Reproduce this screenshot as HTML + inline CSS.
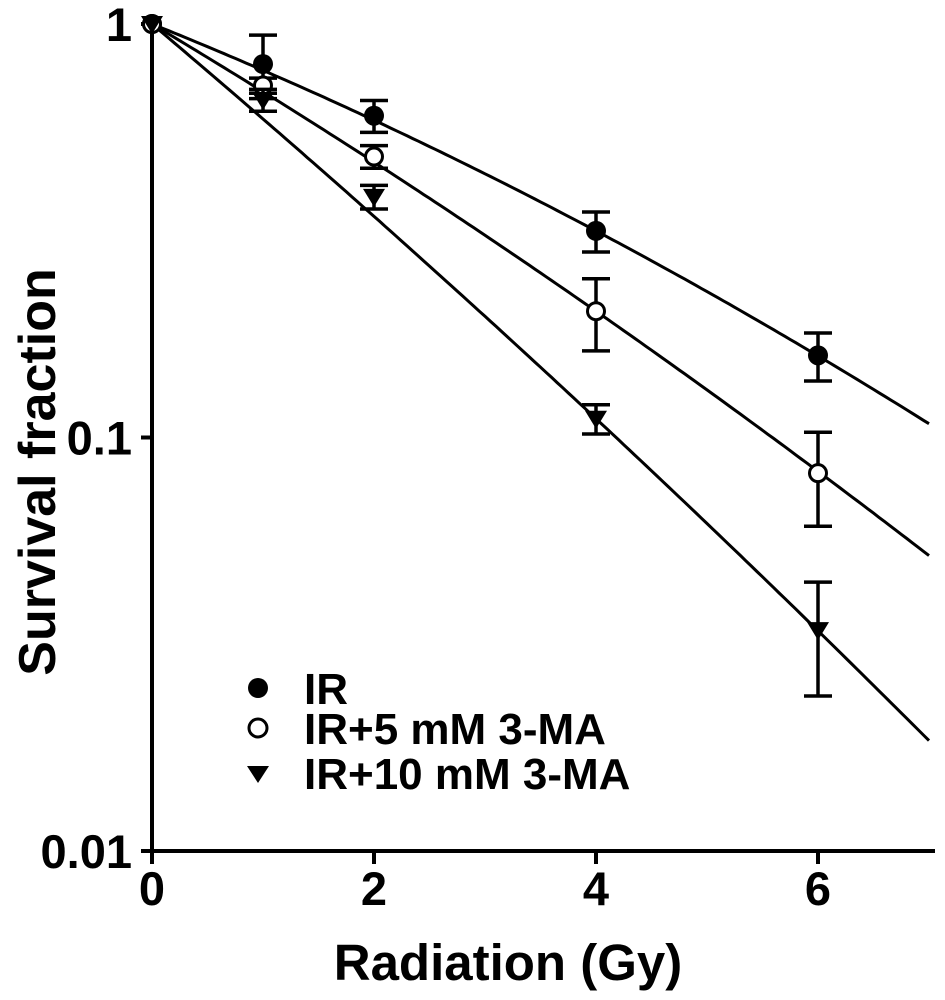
<!DOCTYPE html>
<html><head><meta charset="utf-8"><style>
html,body{margin:0;padding:0;background:#fff;}
svg{display:block;font-family:"Liberation Sans",Arial,sans-serif;font-weight:bold;}
</style></head><body>
<svg id="chart" width="945" height="1000">
<g id="axes"></g><g id="lines"></g><g id="marks"></g>
<g>
<circle cx="258" cy="688" r="10" fill="#000"/>
<text x="304" y="704" font-size="44">IR</text>
<circle cx="258" cy="728" r="9" fill="#fff" stroke="#000" stroke-width="3"/>
<text x="304" y="744" font-size="44">IR+5 mM 3-MA</text>
<polygon points="247,766 269,766 258,783" fill="#000"/>
<text x="304" y="789" font-size="44">IR+10 mM 3-MA</text>
</g>
<text x="508" y="980" font-size="51" text-anchor="middle">Radiation (Gy)</text>
<text transform="translate(55,472) rotate(-90)" font-size="52" text-anchor="middle">Survival fraction</text>
</svg>
<script>
const doses=[0,1,2,4,6];
const irVals=[1,0.80,0.60,0.316,0.158];
const irErr=[0,0.14,0.053,0.035,0.021];
const ma5Vals=[1,0.71,0.478,0.202,0.082];
const ma5Err=[0,0.03,0.03,0.04,0.021];
const ma10Vals=[1,0.655,0.382,0.111,0.0342];
const ma10Err=[0,0.04,0.025,0.009,0.0105];
const fitAlpha=[0.248,0.369,0.522];
const fitBeta=[0.010,0.0077,0.00686];
const xTicks=[0,2,4,6];
const yTicks=[1,0.1,0.01];
const yTickLabels=["1","0.1","0.01"];

const NS="http://www.w3.org/2000/svg";
const X=d=>152+d*111;
const Y=v=>24-Math.log10(v)*413.5;
function mk(tag,attrs,parent){const e=document.createElementNS(NS,tag);for(const k in attrs)e.setAttribute(k,attrs[k]);document.getElementById(parent).appendChild(e);return e;}
let a=mk('line',{x1:152,y1:20,x2:152,y2:851,stroke:'#000','stroke-width':4},'axes');


a=mk('line',{x1:141,y1:851,x2:935,y2:851,stroke:'#000','stroke-width':4},'axes');


xTicks.forEach(t=>{
 let l=mk('line',{x1:X(t),y1:851,x2:X(t),y2:864,stroke:'#000','stroke-width':4},'axes');
 
 
 let tx=mk('text',{x:X(t),y:905,'font-size':47,'text-anchor':'middle'},'axes');tx.textContent=t;
 
 
});
yTicks.forEach((t,i)=>{
 let l=mk('line',{x1:141,y1:Y(t),x2:152,y2:Y(t),stroke:'#000','stroke-width':4},'axes');
 
 
 let tx=mk('text',{x:132,y:Y(t)+17,'font-size':47,'text-anchor':'end'},'axes');tx.textContent=yTickLabels[i];
 
 
});
const names=['ir','5mm','10mm'];
for(let s=0;s<3;s++){
 let pts=[];for(let d=0;d<=7.0001;d+=0.05){pts.push(X(d).toFixed(1)+','+Y(Math.exp(-fitAlpha[s]*d-fitBeta[s]*d*d)).toFixed(1));}
 let p=mk('polyline',{points:pts.join(' '),fill:'none',stroke:'#000','stroke-width':3},'lines');
 
 
}
const series=[[irVals,irErr],[ma5Vals,ma5Err],[ma10Vals,ma10Err]];
series.forEach(([vals,errs],s)=>{
 doses.forEach((d,i)=>{
  const cx=X(d),cy=Y(vals[i]);
  if(errs[i]>0){
   const t=Y(vals[i]+errs[i]),b=Y(vals[i]-errs[i]);
   let e=mk('path',{d:`M${cx},${t}V${b}M${cx-14},${t}H${cx+14}M${cx-14},${b}H${cx+14}`,stroke:'#000','stroke-width':3.5,fill:'none'},'marks');
   
   
  }
  let m;
  if(s==0)m=mk('circle',{cx:cx,cy:cy,r:10,fill:'#000'},'marks');
  else if(s==1)m=mk('circle',{cx:cx,cy:cy,r:8.5,fill:'#fff',stroke:'#000','stroke-width':3},'marks');
  else m=mk('polygon',{points:`${cx-11},${cy-8} ${cx+11},${cy-8} ${cx},${cy+10}`,fill:'#000'},'marks');
  
  
 });
});
</script>
</body></html>
